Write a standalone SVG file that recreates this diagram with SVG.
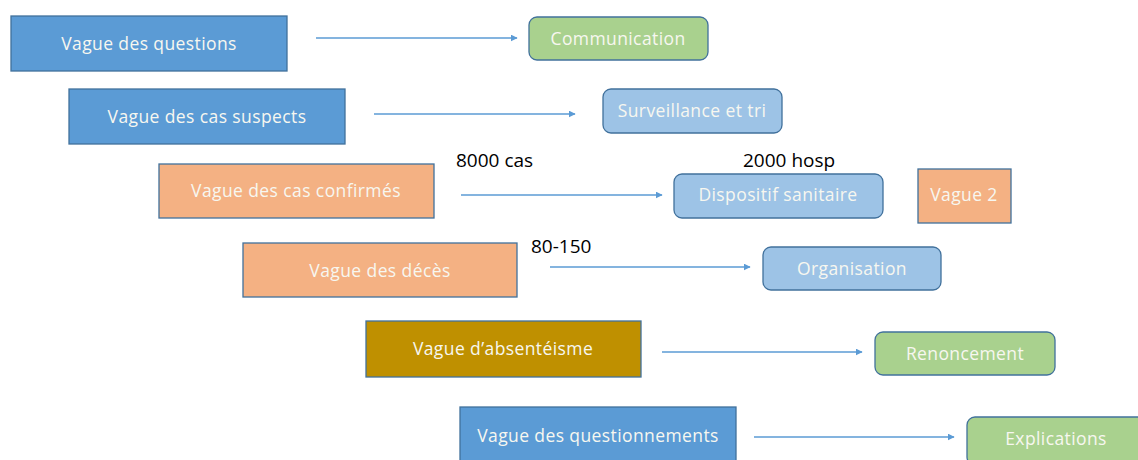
<svg xmlns="http://www.w3.org/2000/svg" width="1138" height="460" viewBox="0 0 1138 460">
<defs>
<marker id="ah" viewBox="0 0 10 10" refX="9" refY="5" markerWidth="7" markerHeight="7" markerUnits="userSpaceOnUse" orient="auto">
<path d="M0,0 L10,5 L0,10 z" fill="#5b9bd5"/>
</marker>
<style>
.wave{stroke:#41719c;stroke-width:1.3}
.res{stroke:#41719c;stroke-width:1.3}
.t{font-family:"Open Sans","Liberation Sans",sans-serif;font-size:17.5px;letter-spacing:0.4px;fill:#f7f7f0;text-anchor:middle;dominant-baseline:central}
.lbl{font-family:"Open Sans","Liberation Sans",sans-serif;font-size:19px;fill:#000}
.c{stroke:#5b9bd5;stroke-width:1.5;fill:none;marker-end:url(#ah)}
</style>
</defs>
<rect width="1138" height="460" fill="#fff"/>
<g id="connectors">
<line class="c" x1="316" y1="38" x2="517" y2="38"/>
<line class="c" x1="374" y1="114" x2="575" y2="114"/>
<line class="c" x1="461" y1="195" x2="662" y2="195"/>
<line class="c" x1="550" y1="267" x2="750" y2="267"/>
<line class="c" x1="662" y1="352" x2="862" y2="352"/>
<line class="c" x1="754" y1="437" x2="954" y2="437"/>
</g>
<g id="n1"><rect class="wave" x="11" y="16" width="276" height="55" fill="#5b9bd5"/><text class="t" x="149" y="43">Vague des questions</text></g>
<g id="n2"><rect class="wave" x="69" y="89" width="276" height="55" fill="#5b9bd5"/><text class="t" x="207" y="116">Vague des cas suspects</text></g>
<g id="n3"><rect class="wave" x="159" y="164" width="275" height="54" fill="#f4b183"/><text class="t" x="296" y="190">Vague des cas confirmés</text></g>
<g id="n4"><rect class="wave" x="243" y="243" width="274" height="54" fill="#f4b183"/><text class="t" x="380" y="270">Vague des décès</text></g>
<g id="n5"><rect class="wave" x="366" y="321" width="275" height="56" fill="#bf9000"/><text class="t" x="503" y="348">Vague d’absentéisme</text></g>
<g id="n6"><rect class="wave" x="460" y="407" width="276" height="56" fill="#5b9bd5"/><text class="t" x="598" y="435">Vague des questionnements</text></g>
<g id="r1"><rect class="res" x="529" y="17" width="179" height="43" rx="8" fill="#a9d18e"/><text class="t" x="618" y="38">Communication</text></g>
<g id="r2"><rect class="res" x="603" y="89" width="179" height="44" rx="8" fill="#9dc3e6"/><text class="t" x="692" y="110">Surveillance et tri</text></g>
<g id="r3"><rect class="res" x="674" y="174" width="209" height="44" rx="8" fill="#9dc3e6"/><text class="t" x="778" y="194">Dispositif sanitaire</text></g>
<g id="r4"><rect class="res" x="763" y="247" width="178" height="43" rx="8" fill="#9dc3e6"/><text class="t" x="852" y="268">Organisation</text></g>
<g id="r5"><rect class="res" x="875" y="332" width="180" height="43" rx="8" fill="#a9d18e"/><text class="t" x="965" y="353">Renoncement</text></g>
<g id="r6"><rect class="res" x="967" y="417" width="180" height="48" rx="8" fill="#a9d18e"/><text class="t" x="1056" y="438">Explications</text></g>
<g id="v2"><rect class="wave" x="918" y="169" width="93" height="54" fill="#f4b183"/><text class="t" x="964" y="194">Vague 2</text></g>
<g id="labels">
<text class="lbl" x="456" y="167">8000 cas</text>
<text class="lbl" x="743" y="167">2000 hosp</text>
<text class="lbl" x="531" y="253">80-150</text>
</g>
</svg>
